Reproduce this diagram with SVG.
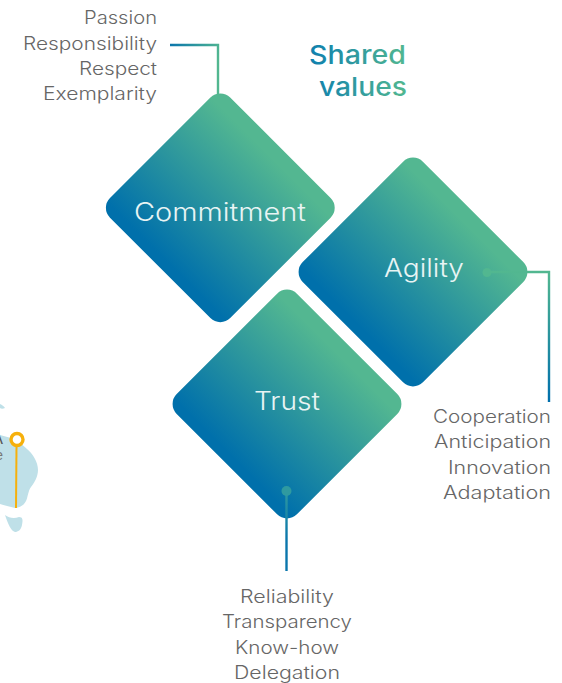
<svg xmlns="http://www.w3.org/2000/svg" width="562" height="683" viewBox="0 0 562 683">
<style>
text{font-family:"Inter","Noto Sans","Liberation Sans",sans-serif}
.l{font-size:18px;fill:#666;font-weight:300;text-anchor:end}
.c{font-size:18px;fill:#666;font-weight:300;text-anchor:middle}
.n{font-size:25px;fill:#e8f4f4;font-weight:300;text-anchor:middle}
.t{font-size:26px;font-weight:500;fill:url(#tg);text-anchor:middle}
.d{fill:url(#dg)}
.w{fill:none;stroke-width:2.400}
</style>
<defs>
<linearGradient id="dg" x1="0.5" y1="0" x2="0.5" y2="1"><stop offset="0.08" stop-color="#53B791"/><stop offset="0.95" stop-color="#0070AB"/></linearGradient>
<linearGradient id="tg" gradientUnits="userSpaceOnUse" x1="309" y1="0" x2="406" y2="0"><stop offset="0" stop-color="#0F7FAE"/><stop offset="1" stop-color="#52B790"/></linearGradient>
<linearGradient id="c1" gradientUnits="userSpaceOnUse" x1="170" y1="45" x2="218" y2="60"><stop offset="0" stop-color="#0A76AC"/><stop offset="1" stop-color="#52B790"/></linearGradient>
<linearGradient id="c2" gradientUnits="userSpaceOnUse" x1="549" y1="272" x2="549" y2="402"><stop offset="0" stop-color="#52B790"/><stop offset="1" stop-color="#006FAC"/></linearGradient>
<linearGradient id="c3" gradientUnits="userSpaceOnUse" x1="287" y1="491" x2="287" y2="540"><stop offset="0" stop-color="#2F9AA0"/><stop offset="1" stop-color="#0A76AC"/></linearGradient>
<rect id="dia" class="d" x="-85" y="-85" width="170" height="170" rx="14"/>
</defs>
<g id="map">
<path d="M0 404C2 405 4 406 5 408C3 409 1 409 0 408Z M0 435L11 438C16 440 22 444 27 449C33 454 38 462 38 470C38 477 34 483 31 487C28 491 28 497 26 501C23 507 17 508 15 508C10 507 4 505 0 504Z" fill="#BFE0E8"/>
<path d="M5 515C9 518 14 519 19 517C23 517 23 520 22 525C21 530 18 532 15 532C11 531 8 524 5 515Z" fill="#BFE0E8"/>
<text x="3" y="444" font-size="16" fill="#555" text-anchor="end" style="font-family:'Liberation Sans',sans-serif">A</text>
<text x="3" y="460" font-size="14" fill="#777" text-anchor="end" style="font-family:'Liberation Sans',sans-serif">e</text>
<line x1="16.500" y1="446" x2="16" y2="508" stroke="#F6B00C" stroke-width="2"/>
<circle cx="17" cy="439.500" r="6" fill="#fff" stroke="#F6B00C" stroke-width="3.400"/>
</g>
<g id="commitment">
<use href="#dia" transform="translate(220.300 207.800) rotate(45)"/>
<text class="n" x="220" y="221" textLength="172" lengthAdjust="spacingAndGlyphs">Commitment</text>
</g>
<g id="agility">
<use href="#dia" transform="translate(413 272) rotate(45)"/>
<text class="n" x="424" y="277" textLength="80" lengthAdjust="spacingAndGlyphs">Agility</text>
</g>
<g id="trust">
<use href="#dia" transform="translate(287 404) rotate(45)"/>
<text class="n" x="287" y="410" textLength="66" lengthAdjust="spacingAndGlyphs">Trust</text>
</g>
<g id="connectors">
<polyline class="w" points="170,45 218,45 218,95" stroke="url(#c1)"/>
<polyline class="w" points="487,272 549,272 549,402" stroke="url(#c2)"/>
<circle cx="487" cy="272.500" r="4.500" fill="#52B790"/>
<line class="w" x1="286.500" y1="491" x2="286.500" y2="571" stroke="url(#c3)"/>
<circle cx="286.500" cy="491" r="5" fill="#2F9AA0"/>
</g>
<g id="title">
<text class="t" x="357.500" y="64" textLength="97" lengthAdjust="spacingAndGlyphs">Shared</text>
<text class="t" x="363" y="96" textLength="88" lengthAdjust="spacingAndGlyphs">values</text>
</g>
<g id="labels-commitment">
<text class="l" x="157" y="24" textLength="73" lengthAdjust="spacingAndGlyphs">Passion</text>
<text class="l" x="157" y="50" textLength="134" lengthAdjust="spacingAndGlyphs">Responsibility</text>
<text class="l" x="157" y="75" textLength="78" lengthAdjust="spacingAndGlyphs">Respect</text>
<text class="l" x="157" y="100" textLength="114" lengthAdjust="spacingAndGlyphs">Exemplarity</text>
</g>
<g id="labels-agility">
<text class="l" x="551" y="423" textLength="118" lengthAdjust="spacingAndGlyphs">Cooperation</text>
<text class="l" x="551" y="448" textLength="117" lengthAdjust="spacingAndGlyphs">Anticipation</text>
<text class="l" x="551" y="474" textLength="103" lengthAdjust="spacingAndGlyphs">Innovation</text>
<text class="l" x="551" y="499" textLength="108" lengthAdjust="spacingAndGlyphs">Adaptation</text>
</g>
<g id="labels-trust">
<text class="c" x="287" y="603" textLength="94" lengthAdjust="spacingAndGlyphs">Reliability</text>
<text class="c" x="287" y="628" textLength="130" lengthAdjust="spacingAndGlyphs">Transparency</text>
<text class="c" x="287" y="654" textLength="104" lengthAdjust="spacingAndGlyphs">Know-how</text>
<text class="c" x="287" y="679" textLength="106" lengthAdjust="spacingAndGlyphs">Delegation</text>
</g>
</svg>
